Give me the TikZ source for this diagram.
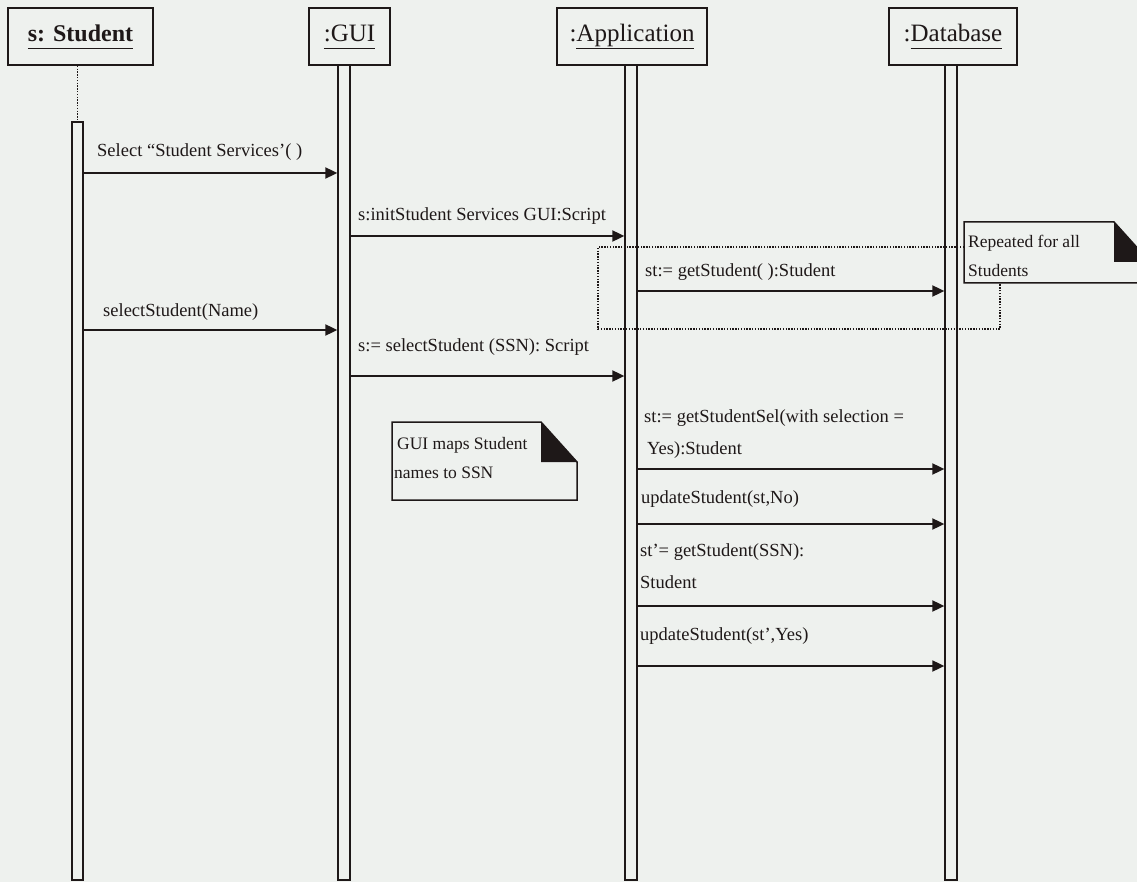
\documentclass[tikz,border=0pt]{standalone}
\usepackage{fontspec}
\setmainfont{Liberation Serif}
\usetikzlibrary{arrows.meta}
\definecolor{bgc}{RGB}{238,241,238}
\definecolor{ink}{RGB}{30,24,24}
\newcommand{\ulx}[1]{\underline{\vphantom{Apl}#1}}
\begin{document}
\begin{tikzpicture}[x=1pt,y=-1pt,
  objbox/.style={draw=ink, line width=1.8pt, fill=bgc, inner sep=0pt, text=ink, font=\fontsize{25}{28}\selectfont},
  lifebar/.style={draw=ink, line width=1.3pt, fill=bgc, inner sep=0pt},
  msg/.style={draw=ink, line width=1.8pt, -{Triangle[length=12pt,width=11pt]}},
  lbl/.style={anchor=west, inner sep=0pt, text=ink, font=\fontsize{18.5}{22}\selectfont},
  notetxt/.style={anchor=west, inner sep=0pt, text=ink, font=\fontsize{17.5}{20}\selectfont},
  notebody/.style={draw=ink, line width=1.5pt, fill=bgc},
  dots/.style={draw=ink, line width=1.4pt, dash pattern=on 1.4pt off 1.4pt},
]
\useasboundingbox (0,0) rectangle (1137,882);
\clip (0,0) rectangle (1137,882);
\fill[bgc] (0,0) rectangle (1137,882);

% objects
\node[objbox, minimum width=145pt, minimum height=57pt, font=\fontsize{24}{28}\selectfont] (stu) at (80.5,36.5) {\textbf{\ulx{s: Student}}};
\node[objbox, minimum width=81pt, minimum height=57pt] (gui) at (349.5,36.5) {\ulx{:GUI}};
\node[objbox, minimum width=150pt, minimum height=57pt] (app) at (632,36.5) {\vphantom{\ulx{A}}:\ulx{Application}};
\node[objbox, minimum width=128pt, minimum height=57pt] (db) at (953,36.5) {:\ulx{Database}};

% lifelines / activation bars
\node[lifebar, minimum width=11pt, minimum height=758pt] (stuBar) at (77.5,501) {};
\node[lifebar, minimum width=12pt, minimum height=815pt] (guiBar) at (344,472.5) {};
\node[lifebar, minimum width=12pt, minimum height=815pt] (appBar) at (631,472.5) {};
\node[lifebar, minimum width=12pt, minimum height=815pt] (dbBar) at (951,472.5) {};
\draw[dots] (stuBar.north |- stu.south) -- (stuBar.north);

% loop frame and note
\draw[dots] (964,247) -- (598,247) -- (598,329) -- (1000,329) -- (1000,283);
\path[notebody] (964,222) -- (1114,222) -- (1150,262) -- (1150,283) -- (964,283) -- cycle;
\fill[ink] (1114,222) -- (1114,262) -- (1150,262) -- cycle;
\node[notetxt] (rep1) at (968,243) {Repeated for all};
\node[notetxt] (rep2) at (968,271) {Students};

% GUI note
\path[notebody] (392,422) -- (541,422) -- (577,462) -- (577,500) -- (392,500) -- cycle;
\fill[ink] (541,422) -- (541,462) -- (577,462) -- cycle;
\node[notetxt] (gn1) at (397,445) {GUI maps Student};
\node[notetxt] (gn2) at (394,473) {names to SSN};

% messages
\draw[msg] (stuBar.east |- 0,173) -- (guiBar.west |- 0,173);
\node[lbl] (l1) at (97,152) {Select “Student Services’( )};

\draw[msg] (guiBar.east |- 0,236) -- (appBar.west |- 0,236);
\node[lbl] (l2) at (358,216) {s:initStudent Services GUI:Script};

\draw[msg] (appBar.east |- 0,291) -- (dbBar.west |- 0,291);
\node[lbl] (l3) at (645,272) {st:= getStudent( ):Student};

\draw[msg] (stuBar.east |- 0,330) -- (guiBar.west |- 0,330);
\node[lbl] (l4) at (103,312) {selectStudent(Name)};

\draw[msg] (guiBar.east |- 0,376) -- (appBar.west |- 0,376);
\node[lbl] (l5) at (358,347) {s:= selectStudent (SSN): Script};

\draw[msg] (appBar.east |- 0,469) -- (dbBar.west |- 0,469);
\node[lbl] (l6a) at (644,418) {st:= getStudentSel(with selection =};
\node[lbl] (l6b) at (647,450) {Yes):Student};

\draw[msg] (appBar.east |- 0,524) -- (dbBar.west |- 0,524);
\node[lbl] (l7) at (641,499) {updateStudent(st,No)};

\draw[msg] (appBar.east |- 0,606) -- (dbBar.west |- 0,606);
\node[lbl] (l8a) at (640,552) {st’= getStudent(SSN):};
\node[lbl] (l8b) at (640,582) {Student};

\draw[msg] (appBar.east |- 0,666) -- (dbBar.west |- 0,666);
\node[lbl] (l9) at (640,636) {updateStudent(st’,Yes)};
\end{tikzpicture}
\end{document}
